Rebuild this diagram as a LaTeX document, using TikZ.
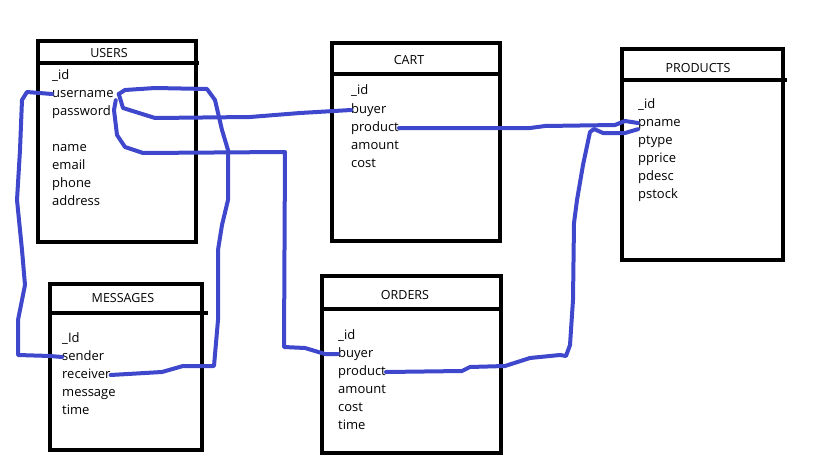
\documentclass[tikz,border=0pt]{standalone}
\usepackage{fontspec}
\setmainfont{Open Sans}
\definecolor{pen}{HTML}{3F48CC}
\tikzset{
    tbl/.style={draw, line width=4pt, inner sep=0pt, outer sep=0pt},
    hdr/.style={line width=4pt},
    title/.style={anchor=base, font=\fontsize{12.5}{14}\selectfont},
    field/.style={anchor=base west, inner sep=0pt, text height=9pt, text depth=3pt,
        font=\fontsize{13}{15}\selectfont},
    link/.style={draw=pen, line width=4pt, line join=round, line cap=round}
}
\begin{document}
\begin{tikzpicture}[x=1pt, y=-1pt]
    \useasboundingbox (0,0) rectangle (819,460);

    % tables
    \node[tbl, minimum width=158pt, minimum height=201pt] (users) at (117,141.5) {};
    \node[tbl, minimum width=168pt, minimum height=198pt] (cart) at (416,142) {};
    \node[tbl, minimum width=161pt, minimum height=211pt] (products) at (702.5,154.5) {};
    \node[tbl, minimum width=152pt, minimum height=166pt] (messages) at (126,367) {};
    \node[tbl, minimum width=179pt, minimum height=177pt] (orders) at (411.5,364.5) {};

    \draw[hdr] (users.north west) ++(0,22) -- ++(161,0);
    \draw[hdr] (cart.north west) ++(0,31) -- ++(170,0);
    \draw[hdr] (products.north west) ++(0,31) -- ++(165,0);
    \draw[hdr] (messages.north west) ++(0,29) -- ++(158,0);
    \draw[hdr] (orders.north west) ++(0,33) -- ++(179,0);

    \node[title] (users-title) at (109,58) {USERS};
    \node[title] (cart-title) at (409,64) {CART};
    \node[title] (products-title) at (698,72) {PRODUCTS};
    \node[title] (messages-title) at (123,302) {MESSAGES};
    \node[title] (orders-title) at (405,299) {ORDERS};

    % fields
    \foreach \y/\n/\f in {79/id/\_id, 97/username/username, 115/password/password,
        151/name/name, 169/email/email, 187/phone/phone, 205/address/address}
        \node[field] (users-\n) at (52,\y) {\f};
    \foreach \y/\n/\f in {95/id/\_id, 113/buyer/buyer, 131/product/product,
        149/amount/amount, 167/cost/cost}
        \node[field] (cart-\n) at (351,\y) {\f};
    \foreach \y/\n/\f in {108/id/\_id, 126/pname/pname, 144/ptype/ptype,
        162/pprice/pprice, 180/pdesc/pdesc, 198/pstock/pstock}
        \node[field] (products-\n) at (638,\y) {\f};
    \foreach \y/\n/\f in {342/id/\_Id, 360/sender/sender, 378/receiver/receiver,
        396/message/message, 414/time/time}
        \node[field] (messages-\n) at (62,\y) {\f};
    \foreach \y/\n/\f in {339/id/\_id, 357/buyer/buyer, 375/product/product,
        393/amount/amount, 411/cost/cost, 429/time/time}
        \node[field] (orders-\n) at (338,\y) {\f};

    % links
    \draw[link] (users-username.west) -- (27,92) -- (22,100) -- (20,150) -- (17,200)
        -- (22,250) -- (25,285) -- (18,320) -- (18,355) -- (50,356) -- (messages-sender.west);
    \draw[link] ([xshift=5pt]users-username.east) -- (125,90) -- (155,88) -- (207,89) -- (215,100)
        -- (222,130) -- (228,150) -- (228,200) -- (222,225) -- (218,250) -- (218,320)
        -- (214,366) -- (183,366) -- (162,372) -- (messages-receiver.east);
    \draw[link] ([xshift=5pt]users-username.east) -- (123,108) -- (155,118) -- (250,117) -- (300,113)
        -- (cart-buyer.west);
    \draw[link] ([xshift=2pt]users-username.south east) -- (114,110) -- (117,135) -- (125,147)
        -- (143,153) -- (285,152) -- (284,347) -- (305,348) -- (325,354) -- (orders-buyer.west);
    \draw[link] (cart-product.east) -- (530,128) -- (545,126) -- (615,125) -- (625,121)
        -- (products-pname.west);
    \draw[link] (orders-product.east) -- (462,371) -- (470,367) -- (505,366) -- (530,358)
        -- (560,355) -- (566,356) -- (570,345) -- (573,300) -- (574,223) -- (577,200)
        -- (583,165) -- (590,132) -- (594,129) -- (603,133) -- (625,133)
        -- (products-pname.south west);
\end{tikzpicture}
\end{document}
